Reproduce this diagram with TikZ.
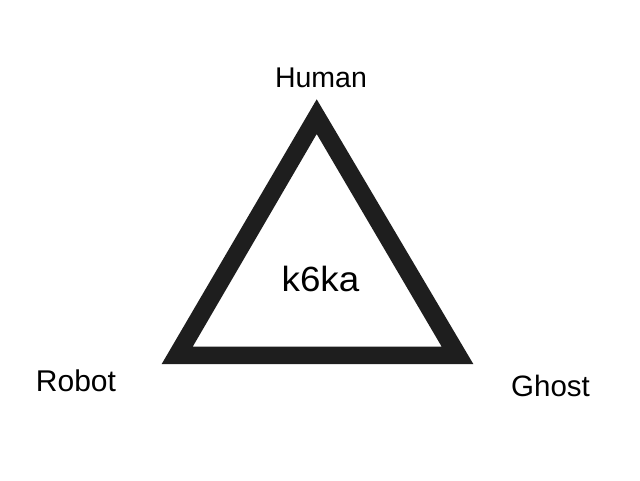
\documentclass[tikz,border=0pt]{standalone}
\usepackage{fontspec}
\setmainfont{Liberation Sans}
\definecolor{tri}{HTML}{1E1E1E}
\begin{document}
\begin{tikzpicture}[x=1pt,y=-1pt,
  lbl/.style={anchor=base,inner sep=0pt,text=black}]
\useasboundingbox (0,0) rectangle (640,480);
\fill[white] (0,0) rectangle (640,480);
% triangle frame
\fill[tri,even odd rule]
  (316.7,99.3) -- (161.7,364) -- (473.3,364) -- cycle
  (316.7,134) -- (192.7,346.7) -- (441.7,346.7) -- cycle;
\node[lbl,font=\fontsize{28.5}{30}\selectfont] (human) at (321,87.7) {Human};
\node[lbl,font=\fontsize{35}{38}\selectfont,xscale=1.05] (center) at (320.5,291.7) {k6ka};
\node[lbl,font=\fontsize{30}{32}\selectfont] (robot) at (76,391) {Robot};
\node[lbl,font=\fontsize{29.5}{32}\selectfont] (ghost) at (550.5,396) {Ghost};
\end{tikzpicture}
\end{document}
